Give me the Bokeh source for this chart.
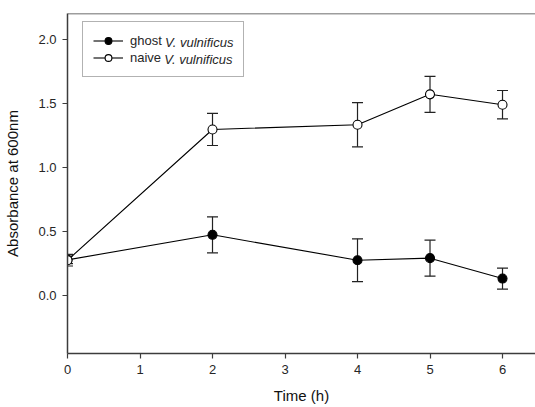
from bokeh.plotting import figure
from bokeh.models import (Range1d, FixedTicker, Whisker, TeeHead, Span,
                          ColumnDataSource, Legend, LegendItem, Label, PrintfTickFormatter)
from bokeh.embed import file_html
from bokeh.resources import INLINE

# Data
time_h = [0, 2, 4, 5, 6]
ghost_mean = [0.28, 0.475, 0.277, 0.293, 0.134]
ghost_err = [0.03, 0.14, 0.167, 0.14, 0.082]
naive_mean = [0.277, 1.296, 1.333, 1.570, 1.489]
naive_err = [0.045, 0.125, 0.172, 0.14, 0.111]
x_ticks = [0, 1, 2, 3, 4, 5, 6]
y_ticks = [0.0, 0.5, 1.0, 1.5, 2.0]
y_lo, y_hi = -0.45, 2.2
legend_labels = ["ghost", "naive"]
legend_italic = "V. vulnificus"

FONT = "Liberation Sans"
AXC = "#3c3c3c"
TXT = "#262626"

p = figure(width=535, height=407, output_backend="svg", toolbar_location=None,
           x_range=Range1d(0, 6.455), y_range=Range1d(y_lo, y_hi),
           min_border_left=67, min_border_right=0, min_border_top=13, min_border_bottom=54)
p.outline_line_color = None
p.outline_line_width = 0
p.outline_line_alpha = 0
p.grid.visible = False
p.background_fill_color = None
p.border_fill_color = None

for ax in (p.xaxis[0], p.yaxis[0]):
    ax.axis_line_color = AXC
    ax.axis_line_width = 1.5
    ax.major_tick_line_color = AXC
    ax.major_tick_line_width = 1.2
    ax.major_tick_out = 5
    ax.major_tick_in = 0
    ax.minor_tick_line_color = None
    ax.major_label_text_font = FONT
    ax.major_label_text_font_size = "13px"
    ax.major_label_text_color = TXT
    ax.axis_label_text_font = FONT
    ax.axis_label_text_font_size = "15px"
    ax.axis_label_text_font_style = "normal"
    ax.axis_label_text_color = "#111111"

p.xaxis[0].ticker = FixedTicker(ticks=x_ticks)
p.yaxis[0].ticker = FixedTicker(ticks=y_ticks)
p.yaxis[0].formatter = PrintfTickFormatter(format="%.1f")
p.xaxis[0].axis_label = "Time (h)"
p.yaxis[0].axis_label = "Absorbance at 600nm"
p.xaxis[0].major_label_standoff = 6
p.yaxis[0].major_label_standoff = 6
p.xaxis[0].axis_label_standoff = 10
p.yaxis[0].axis_label_standoff = 14

# top frame line
p.add_layout(Span(location=y_hi, dimension="width", line_color=AXC, line_width=1.5))

def add_series(mean, err, fill):
    lower = [m - e for m, e in zip(mean, err)]
    upper = [m + e for m, e in zip(mean, err)]
    src = ColumnDataSource(dict(x=time_h, y=mean, lower=lower, upper=upper))
    ln = p.line("x", "y", source=src, line_color="black", line_width=1.1)
    w = Whisker(base="x", lower="lower", upper="upper", source=src,
                line_color="#222222", line_width=1.2,
                upper_head=TeeHead(size=11, line_color="#222222", line_width=1.2),
                lower_head=TeeHead(size=11, line_color="#222222", line_width=1.2))
    p.add_layout(w)
    sc = p.scatter("x", "y", source=src, size=9, marker="circle",
                   fill_color=fill, line_color="black", line_width=1.1)
    return ln, sc

g_line, g_sc = add_series(ghost_mean, ghost_err, "black")
n_line, n_sc = add_series(naive_mean, naive_err, "white")

legend = Legend(items=[LegendItem(label=legend_labels[0], renderers=[g_line, g_sc]),
                       LegendItem(label=legend_labels[1], renderers=[n_line, n_sc])],
                location=(15, 276), padding=10, spacing=0, margin=0,
                glyph_width=30, glyph_height=17, label_height=17, label_width=103,
                label_standoff=7, label_text_font=FONT, label_text_font_size="13px",
                label_text_color=TXT, border_line_color="#666666", border_line_width=1,
                background_fill_alpha=0)
p.add_layout(legend, "center")

for xoff, yoff in ((97.5, 311), (96.7, 294)):
    p.add_layout(Label(x=xoff, y=yoff, x_units="screen", y_units="screen", level="overlay",
                       text=legend_italic, text_font=FONT, text_font_size="13px",
                       text_font_style="italic", text_color=TXT, text_baseline="middle"))

open("out.html", "w").write(file_html(p, INLINE))
